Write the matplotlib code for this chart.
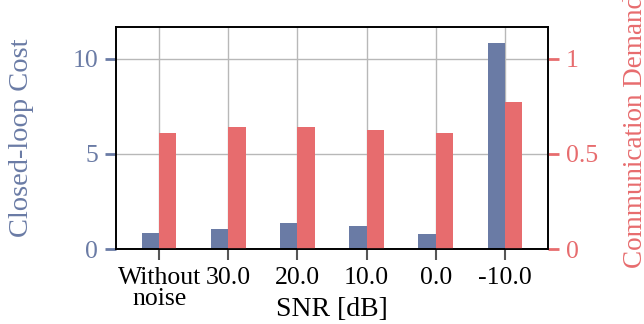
import matplotlib
matplotlib.use("Agg")
import matplotlib.pyplot as plt
import numpy as np

categories = ["Without\nnoise", "30.0", "20.0", "10.0", "0.0", "-10.0"]
cost = [0.84, 1.05, 1.37, 1.21, 0.81, 10.84]
demand = [0.61, 0.642, 0.642, 0.626, 0.61, 0.774]

blue = "#6a7ba5"
red = "#e76c6e"

plt.rcParams["font.family"] = ["Liberation Serif", "DejaVu Serif"]

fig = plt.figure(figsize=(6.44, 3.24), dpi=100)
ax1 = fig.add_axes([116/644, 1-249/324, (548-116)/644, (249-27)/324])
ax2 = ax1.twinx()

x = np.arange(len(categories))
w = 0.25
ax1.bar(x - w/2, cost, width=w, color=blue, zorder=2)
ax2.bar(x + w/2, demand, width=w, color=red, zorder=2)

ax1.set_xlim(-0.625, 5.625)
ax1.set_ylim(0, 11.68)
ax2.set_ylim(0, 1.168)

ax1.set_axisbelow(True)
ax1.grid(True, color="#b8b8b8", linewidth=1.0)

ax1.set_xticks(x)
ax1.set_xticklabels(categories, linespacing=0.95)
ax1.set_yticks([0, 5, 10])
ax1.set_yticklabels(["0", "5", "10"])
ax2.set_yticks([0, 0.5, 1])
ax2.set_yticklabels(["0", "0.5", "1"])

fs = 18.5
ax1.tick_params(axis="x", length=8, width=1.5, color="#555555", pad=5, labelsize=fs)
ax1.tick_params(axis="y", length=8, width=2, color=blue, labelcolor=blue, pad=5, labelsize=fs)
ax2.tick_params(axis="y", length=8, width=2, color=red, labelcolor=red, pad=5, labelsize=fs)

ax1.set_xlabel("SNR [dB]", fontsize=20, va="center")
ax1.xaxis.set_label_coords(0.5, (249-309)/222)
ax1.set_ylabel("Closed-loop Cost", fontsize=20.5, color=blue, va="center")
ax1.yaxis.set_label_coords((22-116)/432, 0.5)
ax2.set_ylabel("Communication Demand", fontsize=19.5, color=red, va="center", rotation=90)
ax2.yaxis.set_label_coords((636-116)/432, 0.53)

for ax in (ax1, ax2):
    for s in ax.spines.values():
        s.set_color("black")
        s.set_linewidth(1.2)

fig.savefig("out.png", dpi=100)
